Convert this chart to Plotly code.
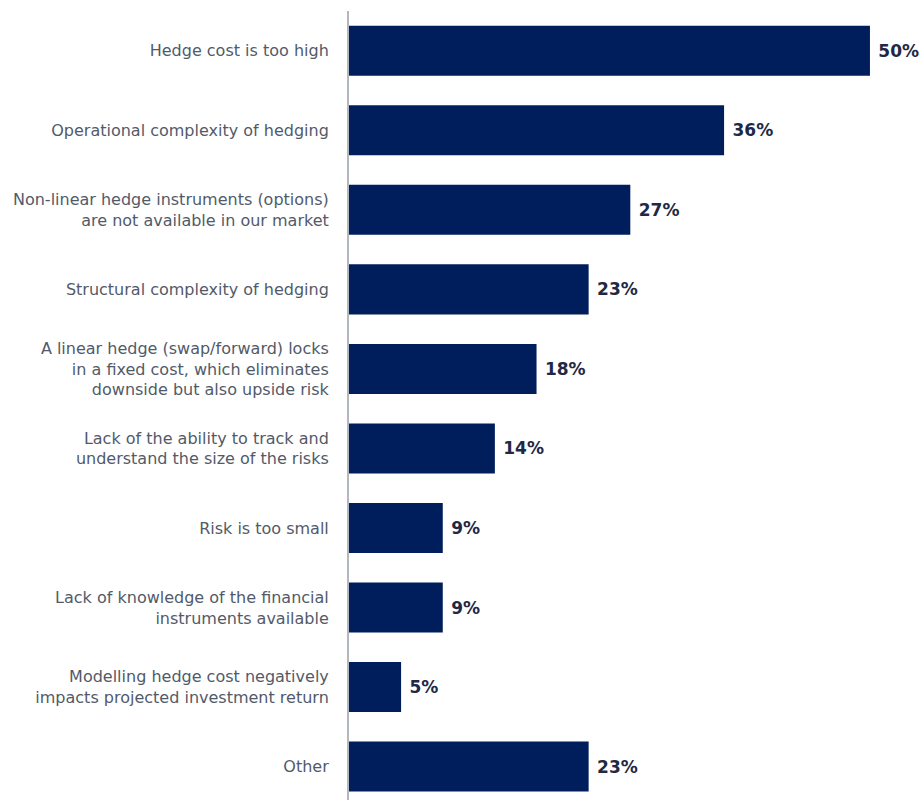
import plotly.graph_objects as go

categories = [
    "Hedge cost is too high",
    "Operational complexity of hedging",
    "Non-linear hedge instruments (options)<br>are not available in our market",
    "Structural complexity of hedging",
    "A linear hedge (swap/forward) locks<br>in a fixed cost, which eliminates<br>downside but also upside risk",
    "Lack of the ability to track and<br>understand the size of the risks",
    "Risk is too small",
    "Lack of knowledge of the financial<br>instruments available",
    "Modelling hedge cost negatively<br>impacts projected investment return",
    "Other",
]
values = [50, 36, 27, 23, 18, 14, 9, 9, 5, 23]

BAR = "#001e5c"
LABEL = "#525a69"
VALUE = "#1f2945"
FONT = "DejaVu Sans"

fig = go.Figure(
    go.Bar(
        x=values,
        y=categories,
        orientation="h",
        marker=dict(color=BAR, line=dict(width=0)),
        text=[f"\u00a0<b>{v}%</b>" for v in values],
        textposition="outside",
        textfont=dict(family=FONT, size=17, color=VALUE),
        cliponaxis=False,
        hoverinfo="skip",
    )
)

fig.update_layout(
    width=921,
    height=800,
    margin=dict(l=349, r=0, t=11, b=0),
    paper_bgcolor="white",
    plot_bgcolor="white",
    bargap=0.371,
    showlegend=False,
    font=dict(family=FONT, size=16, color=LABEL),
)
fig.update_xaxes(range=[0, 54.9], visible=False, fixedrange=True)
fig.update_yaxes(
    range=[9.42, -0.5],
    showline=True,
    linecolor="#b3b7bf",
    linewidth=2,
    showgrid=False,
    zeroline=False,
    ticks="",
    ticklabelstandoff=15,
    tickfont=dict(family=FONT, size=16, color=LABEL),
    automargin=False,
    fixedrange=True,
)

fig.write_html(
    "out.html",
    config={"displayModeBar": False, "staticPlot": True},
    post_script="document.body.style.margin='0';document.body.style.overflow='hidden';",
)
